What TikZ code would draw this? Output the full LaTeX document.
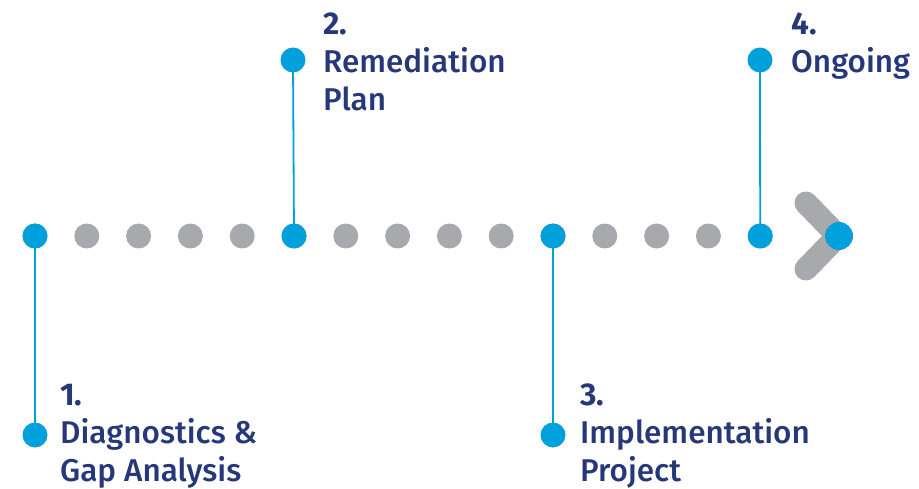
\documentclass[tikz,border=0pt]{standalone}
\usepackage{fontspec}
\setmainfont{Fira Sans}[UprightFont={* Medium}, BoldFont={* Bold}]
\definecolor{tlblue}{RGB}{0,160,220}
\definecolor{tlgrey}{RGB}{167,169,172}
\definecolor{tlnavy}{RGB}{38,56,122}

\begin{document}
\begin{tikzpicture}[x=1pt,y=-1pt]
\tikzstyle{every node}+=[inner sep=0pt]
\tikzset{
  greydot/.style={circle,fill=tlgrey,minimum size=25pt},
  bluedot/.style={circle,fill=tlblue,minimum size=25pt},
  stem/.style={tlblue,line width=1.8pt},
  numtext/.style={anchor=base west,text=tlnavy,font=\fontsize{31.5}{38}\selectfont\bfseries},
  steptext/.style={anchor=base west,text=tlnavy,font=\fontsize{31.5}{38}\selectfont}
}
\useasboundingbox (0,0) rectangle (919,489);
% the dotted time line
\foreach \i in {0,...,14}
  \node [greydot] (p\i) at (35+51.8*\i,236) {};
\foreach \i in {0,5,10,14}
  \node [bluedot] (p\i) at (35+51.8*\i,236) {};
% arrow head
\draw [tlgrey,line width=23pt,line cap=round,line join=round] (806,203) -- (838,236) -- (806,269);
\node [circle,fill=tlblue,minimum size=28pt] (tip) at (839,236) {};
% milestones
\node [bluedot] (e1) at (35,435) {};
\node [bluedot] (e2) at (293,60) {};
\node [bluedot] (e3) at (553,435) {};
\node [bluedot] (e4) at (760,60) {};
\draw [stem] (p0.center) -- (e1.center);
\draw [stem] (p5.center) -- (e2.center);
\draw [stem] (p10.center) -- (e3.center);
\draw [stem] (p14.center) -- (e4.center);
% labels
\node [numtext] (n1) at (60,405) {1.};
\node [steptext] (s1a) at (60,443) {Diagnostics \&};
\node [steptext] (s1b) at (60,481) {Gap Analysis};
\node [numtext] (n2) at (323,35) {2.};
\node [steptext] (s2a) at (323,73) {Remediation};
\node [steptext] (s2b) at (323,111) {Plan};
\node [numtext] (n3) at (580,405) {3.};
\node [steptext] (s3a) at (580,443) {Implementation};
\node [steptext] (s3b) at (580,481) {Project};
\node [numtext] (n4) at (791,35) {4.};
\node [steptext] (s4a) at (791,73) {Ongoing};
\end{tikzpicture}
\end{document}
